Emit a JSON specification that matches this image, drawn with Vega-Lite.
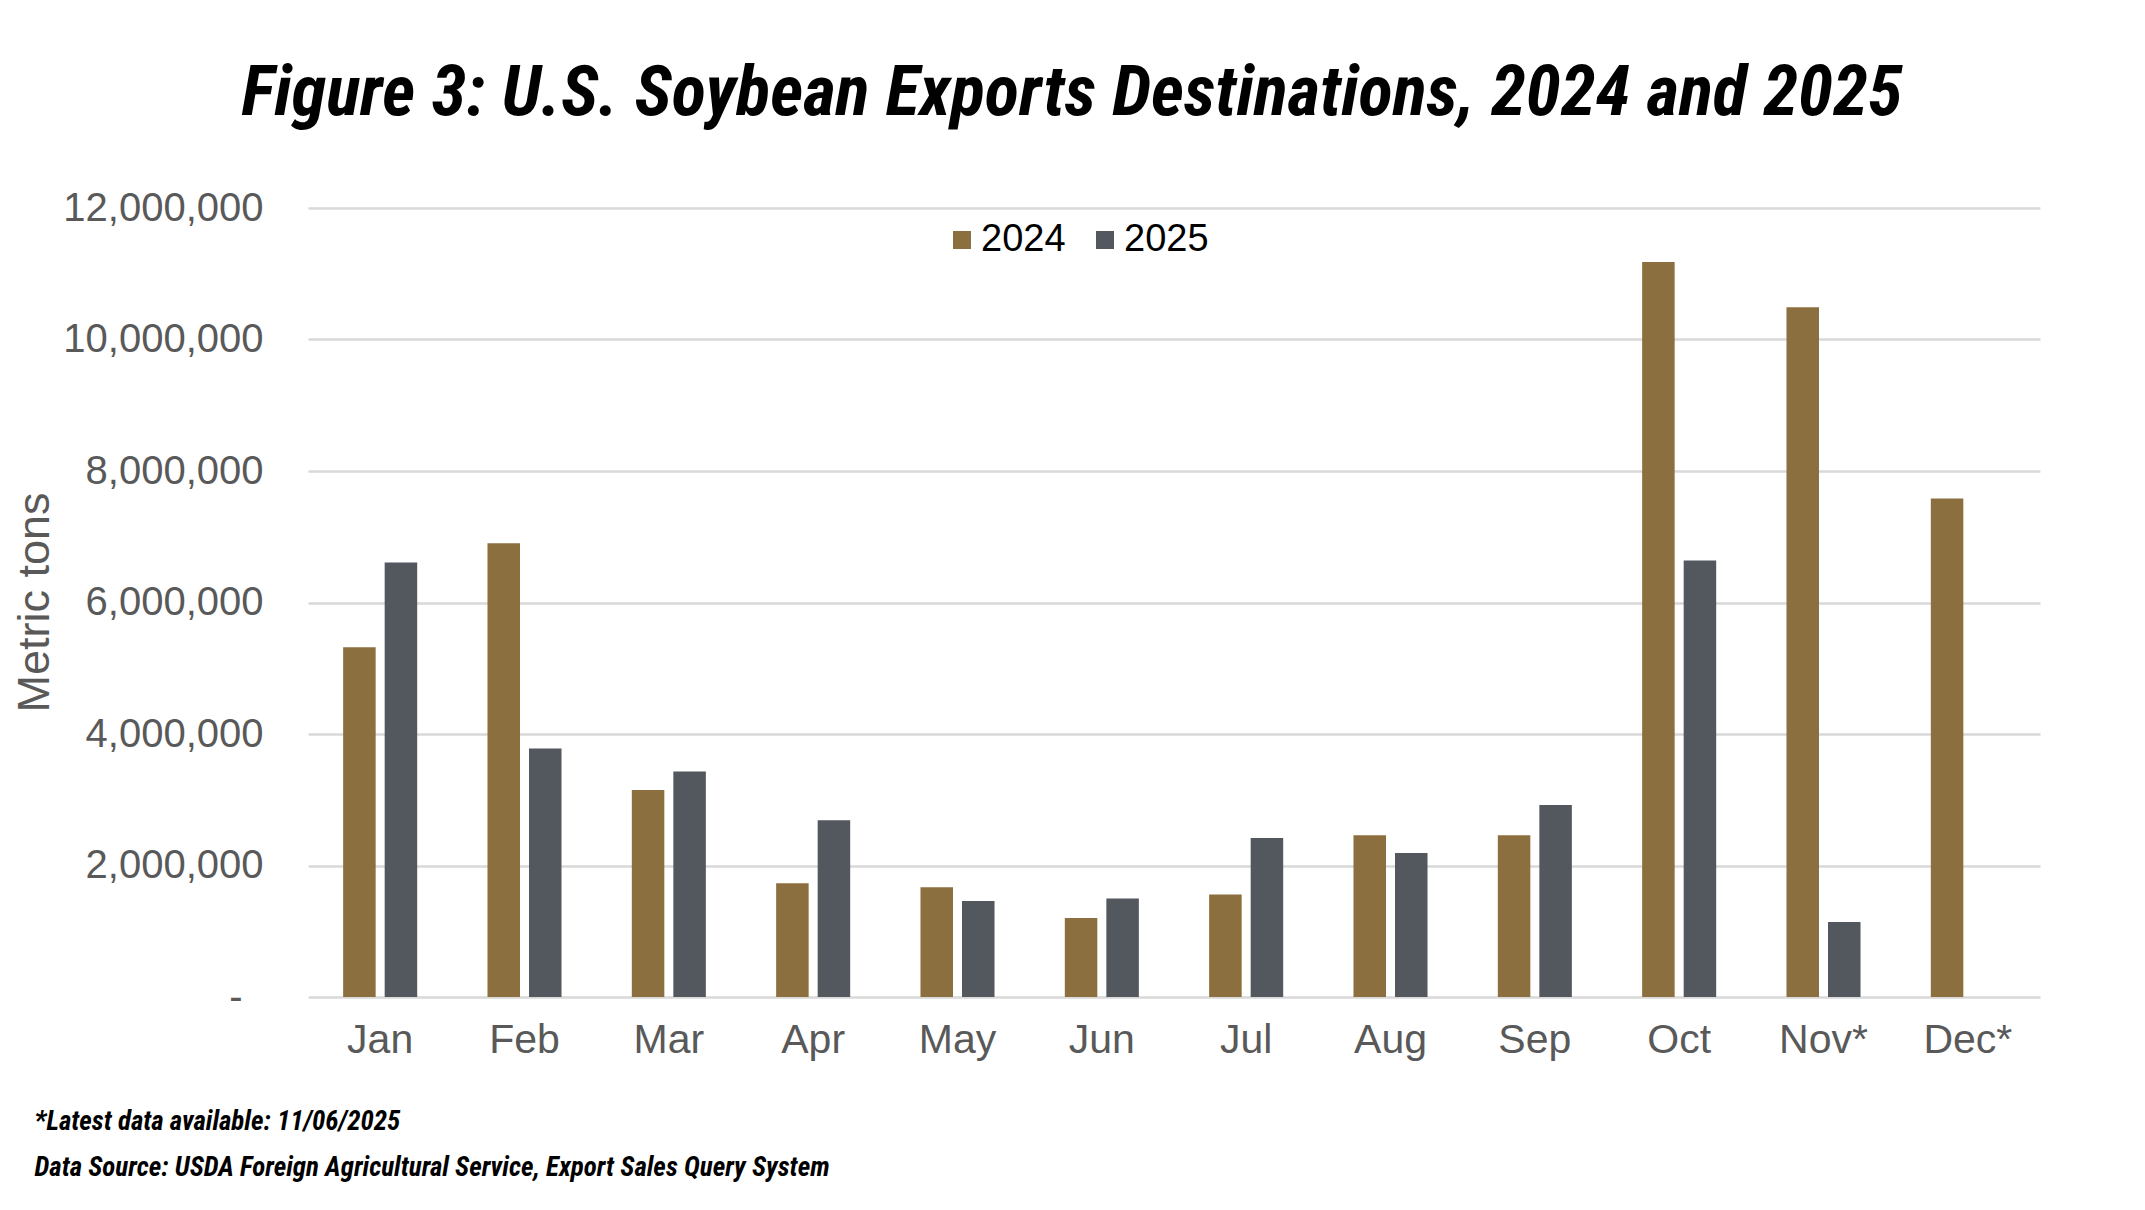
{
  "$schema": "https://vega.github.io/schema/vega-lite/v6.json",
  "width": 1732,
  "height": 789,
  "autosize": {"type": "none"},
  "padding": {"left": 308, "top": 208, "right": 105, "bottom": 213},
  "background": "white",
  "title": {
    "text": "Figure 3: U.S. Soybean Exports Destinations, 2024 and 2025",
    "anchor": "middle",
    "frame": "group",
    "dx": -102,
    "dy": 69,
    "offset": 71,
    "baseline": "alphabetic",
    "font": "Roboto Condensed, Liberation Sans Narrow, DejaVu Sans Condensed, sans-serif",
    "fontStyle": "italic",
    "fontWeight": "bold",
    "fontSize": 71,
    "color": "#000000"
  },
  "data": {
    "values": [
      {"month": "Jan", "year": "2024", "tons": 5320000},
      {"month": "Jan", "year": "2025", "tons": 6610000},
      {"month": "Feb", "year": "2024", "tons": 6900000},
      {"month": "Feb", "year": "2025", "tons": 3780000},
      {"month": "Mar", "year": "2024", "tons": 3150000},
      {"month": "Mar", "year": "2025", "tons": 3430000},
      {"month": "Apr", "year": "2024", "tons": 1730000},
      {"month": "Apr", "year": "2025", "tons": 2690000},
      {"month": "May", "year": "2024", "tons": 1670000},
      {"month": "May", "year": "2025", "tons": 1460000},
      {"month": "Jun", "year": "2024", "tons": 1200000},
      {"month": "Jun", "year": "2025", "tons": 1500000},
      {"month": "Jul", "year": "2024", "tons": 1560000},
      {"month": "Jul", "year": "2025", "tons": 2420000},
      {"month": "Aug", "year": "2024", "tons": 2460000},
      {"month": "Aug", "year": "2025", "tons": 2190000},
      {"month": "Sep", "year": "2024", "tons": 2460000},
      {"month": "Sep", "year": "2025", "tons": 2920000},
      {"month": "Oct", "year": "2024", "tons": 11180000},
      {"month": "Oct", "year": "2025", "tons": 6640000},
      {"month": "Nov*", "year": "2024", "tons": 10490000},
      {"month": "Nov*", "year": "2025", "tons": 1140000},
      {"month": "Dec*", "year": "2024", "tons": 7580000}
    ]
  },
  "mark": {"type": "bar"},
  "encoding": {
    "x": {
      "field": "month",
      "type": "nominal",
      "sort": ["Jan", "Feb", "Mar", "Apr", "May", "Jun", "Jul", "Aug", "Sep", "Oct", "Nov*", "Dec*"],
      "scale": {"paddingInner": 0.487, "paddingOuter": 0.2435},
      "axis": {
        "labelAngle": 0,
        "labelFont": "Liberation Sans",
        "labelFontSize": 41,
        "labelColor": "#595959",
        "labelBaseline": "alphabetic",
        "labelPadding": 55,
        "ticks": false,
        "domain": false,
        "grid": false,
        "title": ["*Latest data available: 11/06/2025", "Data Source: USDA Foreign Agricultural Service, Export Sales Query System"],
        "titleFont": "Roboto Condensed, Liberation Sans Narrow, DejaVu Sans Condensed, sans-serif",
        "titleFontStyle": "italic",
        "titleFontWeight": "bold",
        "titleFontSize": 27,
        "titleColor": "#000000",
        "titleAnchor": "start",
        "titleAlign": "left",
        "titleBaseline": "alphabetic",
        "titleX": -274,
        "titleY": 132,
        "titleLineHeight": 46,
        "titleLimit": 0
      }
    },
    "xOffset": {
      "field": "year",
      "type": "nominal",
      "scale": {"paddingInner": 0.217, "paddingOuter": 0}
    },
    "y": {
      "field": "tons",
      "type": "quantitative",
      "scale": {"domain": [0, 12000000], "nice": false},
      "axis": {
        "values": [0, 2000000, 4000000, 6000000, 8000000, 10000000, 12000000],
        "labelExpr": "datum.value == 0 ? '-' : format(datum.value, ',')",
        "labelFont": "Liberation Sans",
        "labelFontSize": 40,
        "labelColor": "#595959",
        "labelLimit": 0,
        "labelPadding": {"condition": {"test": "datum.value == 0", "value": 66}, "value": 45},
        "ticks": false,
        "domain": false,
        "grid": true,
        "gridColor": "#D9D9D9",
        "gridWidth": 2.5,
        "title": "Metric tons",
        "titleFont": "Liberation Sans",
        "titleFontSize": 45,
        "titleFontWeight": "normal",
        "titleColor": "#595959",
        "titleAngle": 270,
        "titleBaseline": "middle",
        "titleAlign": "center",
        "titleX": -274,
        "titleY": 394
      }
    },
    "color": {
      "field": "year",
      "type": "nominal",
      "scale": {"domain": ["2024", "2025"], "range": ["#8C6F3E", "#53585F"]},
      "legend": {
        "title": null,
        "orient": "none",
        "direction": "horizontal",
        "legendX": 635,
        "legendY": 13,
        "symbolType": "square",
        "symbolSize": 324,
        "symbolStrokeWidth": 0,
        "labelFont": "Liberation Sans",
        "labelFontSize": 38,
        "labelColor": "#000000",
        "labelOffset": 0,
        "columnPadding": 20,
        "padding": 0
      }
    }
  },
  "config": {
    "view": {"stroke": null}
  }
}
